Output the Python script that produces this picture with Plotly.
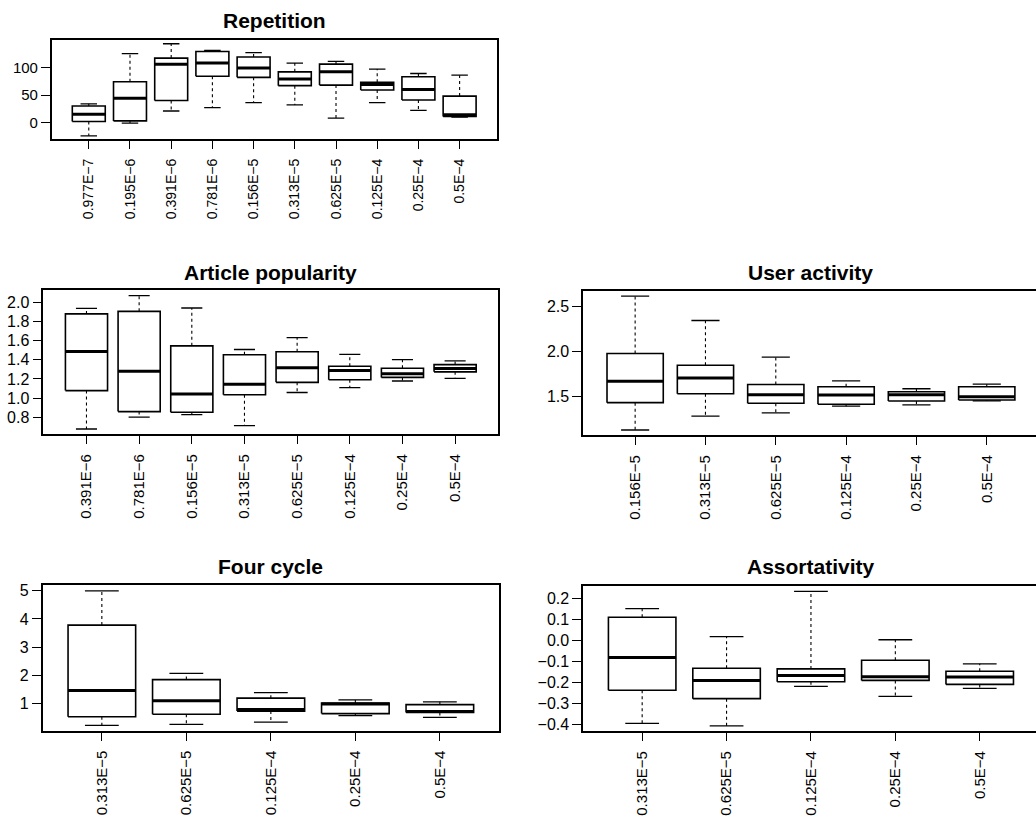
import plotly.graph_objects as go

M = "\u2212"

# ---------------- data ----------------
rep_labels = ["0.977E" + M + "7", "0.195E" + M + "6", "0.391E" + M + "6", "0.781E" + M + "6",
              "0.156E" + M + "5", "0.313E" + M + "5", "0.625E" + M + "5", "0.125E" + M + "4",
              "0.25E" + M + "4", "0.5E" + M + "4"]
rep_lw = [-24, -1, 21, 27, 36, 32, 8, 36, 22, 10]
rep_q1 = [2, 3, 40, 84, 82, 67, 68, 59, 41, 11]
rep_med = [15, 44, 106, 108, 99, 79, 92, 69, 60, 14]
rep_q3 = [30, 74, 117, 129, 119, 92, 106, 73, 83, 48]
rep_uw = [34, 125, 143, 131, 127, 108, 111, 97, 89, 86]
rep_ticks = [0, 50, 100]

art_labels = ["0.391E" + M + "6", "0.781E" + M + "6", "0.156E" + M + "5", "0.313E" + M + "5",
              "0.625E" + M + "5", "0.125E" + M + "4", "0.25E" + M + "4", "0.5E" + M + "4"]
art_lw = [0.676, 0.800, 0.827, 0.712, 1.058, 1.109, 1.178, 1.206]
art_q1 = [1.078, 0.858, 0.851, 1.034, 1.164, 1.192, 1.216, 1.274]
art_med = [1.488, 1.281, 1.041, 1.144, 1.316, 1.288, 1.254, 1.309]
art_q3 = [1.880, 1.907, 1.546, 1.453, 1.484, 1.333, 1.312, 1.350]
art_uw = [1.938, 2.072, 1.942, 1.508, 1.632, 1.457, 1.402, 1.388]
art_ticks = [0.8, 1.0, 1.2, 1.4, 1.6, 1.8, 2.0]

usr_labels = ["0.156E" + M + "5", "0.313E" + M + "5", "0.625E" + M + "5",
              "0.125E" + M + "4", "0.25E" + M + "4", "0.5E" + M + "4"]
usr_lw = [1.125, 1.279, 1.316, 1.390, 1.404, 1.449]
usr_q1 = [1.430, 1.529, 1.423, 1.412, 1.449, 1.460]
usr_med = [1.669, 1.706, 1.518, 1.515, 1.518, 1.496]
usr_q3 = [1.978, 1.846, 1.632, 1.607, 1.551, 1.607]
usr_uw = [2.618, 2.346, 1.938, 1.673, 1.585, 1.636]
usr_ticks = [1.5, 2.0, 2.5]

fc_labels = ["0.313E" + M + "5", "0.625E" + M + "5", "0.125E" + M + "4",
             "0.25E" + M + "4", "0.5E" + M + "4"]
fc_lw = [0.21, 0.25, 0.33, 0.56, 0.50]
fc_q1 = [0.52, 0.61, 0.72, 0.63, 0.67]
fc_med = [1.45, 1.09, 0.78, 0.97, 0.71]
fc_q3 = [3.78, 1.84, 1.18, 1.01, 0.95]
fc_uw = [5.00, 2.06, 1.38, 1.12, 1.05]
fc_ticks = [1, 2, 3, 4, 5]

as_labels = ["0.313E" + M + "5", "0.625E" + M + "5", "0.125E" + M + "4",
             "0.25E" + M + "4", "0.5E" + M + "4"]
as_lw = [-0.394, -0.406, -0.217, -0.265, -0.227]
as_q1 = [-0.236, -0.276, -0.195, -0.189, -0.208]
as_med = [-0.080, -0.189, -0.165, -0.172, -0.173]
as_q3 = [0.112, -0.131, -0.134, -0.093, -0.145]
as_uw = [0.153, 0.020, 0.236, 0.005, -0.110]
as_ticks = [-0.4, -0.3, -0.2, -0.1, 0.0, 0.1, 0.2]

# ---------------- layout helpers ----------------
W, H = 1036, 817
FONT = "Liberation Sans, Arial, Helvetica, sans-serif"

fig = go.Figure()
layout = {}
annotations = []


def px_x(p):
    return p / W


def px_y(p):
    return 1 - p / H


def add_panel(k, title, labels, lw, q1, med, q3, uw, yticks, ytickfmt,
              xpx, ypx, title_px, tfs, clip_right=None):
    n = len(labels)
    xs = list(range(1, n + 1))
    hb, hc = 0.4, 0.2
    wx, wy, cx, cy, bx, by, mx, my = [], [], [], [], [], [], [], []
    for i, x in enumerate(xs):
        wx += [x, x, None, x, x, None]
        wy += [q3[i], uw[i], None, q1[i], lw[i], None]
        cx += [x - hc, x + hc, None, x - hc, x + hc, None]
        cy += [uw[i], uw[i], None, lw[i], lw[i], None]
        bx += [x - hb, x + hb, x + hb, x - hb, x - hb, None]
        by += [q1[i], q1[i], q3[i], q3[i], q1[i], None]
        mx += [x - hb, x + hb, None]
        my += [med[i], med[i], None]
    xa = "x" if k == 1 else f"x{k}"
    ya = "y" if k == 1 else f"y{k}"
    common = dict(xaxis=xa, yaxis=ya, mode="lines", showlegend=False, hoverinfo="skip")
    fig.add_trace(go.Scatter(x=wx, y=wy, line=dict(color="black", width=1.1, dash="3px,3px"), **common))
    fig.add_trace(go.Scatter(x=cx, y=cy, line=dict(color="black", width=1.3), **common))
    fig.add_trace(go.Scatter(x=bx, y=by, line=dict(color="black", width=1.6), **common))
    fig.add_trace(go.Scatter(x=mx, y=my, line=dict(color="black", width=3), **common))

    ymin, ymax = min(lw), max(uw)
    r = ymax - ymin
    yr = [ymin - 0.04 * r, ymax + 0.04 * r]
    x0, x1 = 0.5 - 0.04 * n, n + 0.5 + 0.04 * n
    right_px = xpx[1]
    if clip_right is not None:
        # R plot region extends beyond the page; show only visible part
        x1 = x0 + (x1 - x0) * (clip_right - xpx[0]) / (xpx[1] - xpx[0])
        right_px = clip_right
    xkey = "xaxis" if k == 1 else f"xaxis{k}"
    ykey = "yaxis" if k == 1 else f"yaxis{k}"
    layout[xkey] = dict(
        domain=[px_x(xpx[0]), px_x(right_px)], range=[x0, x1], anchor=ya,
        tickmode="array", tickvals=xs, ticktext=labels, tickangle=-90,
        ticks="outside", ticklen=8, tickwidth=1.3, tickcolor="black",
        showline=True, linecolor="black", linewidth=1.5, mirror=True,
        showgrid=False, zeroline=False, ticklabelstandoff=4,
        tickfont=dict(family=FONT, size=tfs, color="black"),
    )
    layout[ykey] = dict(
        domain=[px_y(ypx[1]), px_y(ypx[0])], range=yr, anchor=xa,
        tickmode="array", tickvals=yticks, tickformat=ytickfmt,
        ticks="outside", ticklen=9, tickwidth=1.3, tickcolor="black",
        showline=True, linecolor="black", linewidth=1.5,
        mirror=(clip_right is None),
        showgrid=False, zeroline=False,
        tickfont=dict(family=FONT, size=tfs + 1, color="black"),
    )
    annotations.append(dict(
        text=f"<b>{title}</b>", xref="paper", yref="paper",
        x=px_x((xpx[0] + xpx[1]) / 2), y=px_y(title_px),
        xanchor="center", yanchor="middle", showarrow=False,
        font=dict(family=FONT, size=21, color="black"),
    ))


add_panel(1, "Repetition", rep_labels, rep_lw, rep_q1, rep_med, rep_q3, rep_uw,
          rep_ticks, "d", (51.7, 496.7), (37.3, 137.3), 18, 14)
add_panel(2, "Article popularity", art_labels, art_lw, art_q1, art_med, art_q3, art_uw,
          art_ticks, ".1f", (43.3, 498.3), (289, 434), 271, 15)
add_panel(3, "User activity", usr_labels, usr_lw, usr_q1, usr_med, usr_q3, usr_uw,
          usr_ticks, ".1f", (583.1, 1038.8), (289.5, 435), 271, 15, clip_right=1036)
add_panel(4, "Four cycle", fc_labels, fc_lw, fc_q1, fc_med, fc_q3, fc_uw,
          fc_ticks, "d", (42.7, 499), (586, 732.3), 567, 15)
add_panel(5, "Assortativity", as_labels, as_lw, as_q1, as_med, as_q3, as_uw,
          as_ticks, ".1f", (583.1, 1038.8), (586.5, 732.8), 567, 15, clip_right=1036)

fig.update_layout(
    width=W, height=H, autosize=False,
    margin=dict(l=0, r=0, t=0, b=0, pad=0),
    paper_bgcolor="white", plot_bgcolor="white",
    annotations=annotations,
    font=dict(family=FONT, color="black"),
    **layout,
)

fig.write_html("out.html")
